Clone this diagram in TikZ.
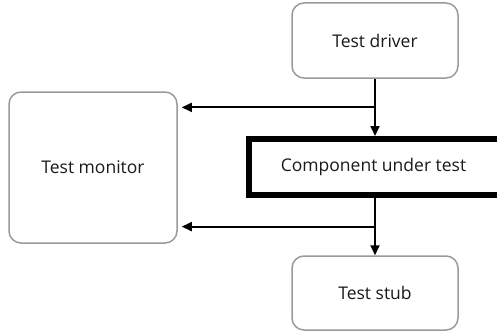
\documentclass[tikz,border=0pt]{standalone}
\usepackage{fontspec}
\setmainfont{Open Sans}
\usetikzlibrary{arrows.meta,calc}
\definecolor{boxgray}{HTML}{9A9A9A}
\definecolor{labelink}{HTML}{1A1A1A}
\begin{document}
\begin{tikzpicture}[x=1pt,y=1pt,
  labelfont/.style={font=\fontsize{17.5}{20}\selectfont, text=labelink},
  roundbox/.style={draw=boxgray, line width=1.5pt, rounded corners=12pt,
    fill=white, align=center, inner sep=0pt, labelfont},
  flow/.style={draw=black, line width=1.9pt,
    -{Triangle[length=10pt,width=9pt]}},
  cutline/.style={draw=black, line width=6pt, line join=miter}
]
\useasboundingbox (0,0) rectangle (497,333);
\clip (0,0) rectangle (497,333);

\node[roundbox, minimum width=166pt, minimum height=75pt] (driver) at (375,292.5) {Test driver};
\node[roundbox, minimum width=168pt, minimum height=151pt] (monitor) at (93,165.5) {Test monitor};
\node[roundbox, minimum width=166pt, minimum height=74pt] (stub) at (375,40) {Test stub};
\node[minimum width=249pt, minimum height=56pt, outer sep=3pt, inner sep=0pt,
  labelfont] (cut) at (373.5,166) {Component under test};

% heavy frame of the component, open towards the right
\draw[cutline]
  ([shift={(40pt,-3pt)}]cut.north east) --
  ([shift={(3pt,-3pt)}]cut.north west) --
  ([shift={(3pt,3pt)}]cut.south west) --
  ([shift={(40pt,3pt)}]cut.south east);

% driver feeds the component, monitor observes the inputs
\coordinate (tapin) at ($(driver.south)!0.5!(driver.south |- cut.north)$);
\draw[flow] (driver.south) -- (driver.south |- cut.north);
\draw[flow, shorten >=4pt] (tapin) -- (tapin -| monitor.east);

% component calls the stub, monitor observes the outputs
\coordinate (tapout) at ($(driver.south |- cut.south)!0.5!(stub.north)$);
\draw[flow] (driver.south |- cut.south) -- (stub.north);
\draw[flow, shorten >=4pt] (tapout) -- (tapout -| monitor.east);
\end{tikzpicture}
\end{document}
